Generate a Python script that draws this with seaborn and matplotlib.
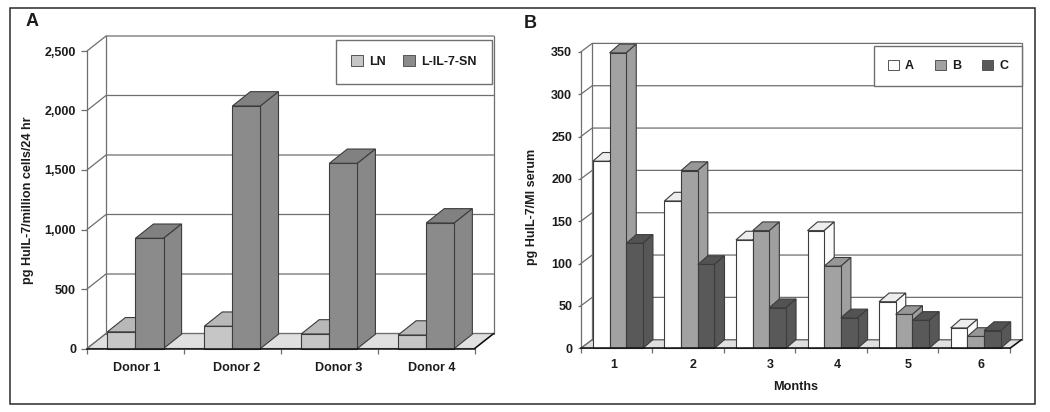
"""
Two pseudo-3D bar charts of HuIL-7 levels (panels A and B).
Bars come from seaborn; the depth faces are derived from the bar patches.
"""

import matplotlib.pyplot as plt
from matplotlib.colors import to_rgb
from matplotlib.patches import Polygon, Rectangle
from matplotlib.ticker import FixedLocator, StrMethodFormatter
import pandas as pd
import seaborn as sns


WIDTH, HEIGHT = 1050, 412

DONORS = ["Donor 1", "Donor 2", "Donor 3", "Donor 4"]
LN = [140, 187, 122, 113]
L_IL_7_SN = [926, 2038, 1556, 1055]

MONTHS = ["1", "2", "3", "4", "5", "6"]
GROUP_A = [221, 174, 128, 139, 55, 24]
GROUP_B = [349, 210, 139, 97, 40, 14]
GROUP_C = [124, 99, 48, 36, 33, 21]

TICKS_A = [0, 500, 1000, 1500, 2000, 2500]
TICKS_B = [0, 50, 100, 150, 200, 250, 300, 350]

GREY_A = {"LN": "#c6c6c6", "L-IL-7-SN": "#8b8b8b"}
GREY_B = {"A": "#ffffff", "B": "#a2a2a2", "C": "#595959"}
EDGE = "#3c3c3c"
WALL = "#6e6e6e"
FLOOR = "#e0e0e0"
TEXT = "#1c1c1c"

# the category labels in the original are not quite centred under their bars
LABEL_SHIFT_A = [0.01, 0.04, 0.10, 0.06]
LABEL_SHIFT_B = [-0.065, 0.046, 0.126, 0.07, 0.052, 0.08]


def make_axes(fig, left, right, top, bottom):
    return fig.add_axes([left / WIDTH, 1 - bottom / HEIGHT,
                         (right - left) / WIDTH, (bottom - top) / HEIGHT])


def shade(color, factor):
    r, g, b = to_rgb(color)
    return (r * factor, g * factor, b * factor)


def draw_wall(ax, yticks, wall_dx, wall_dy):
    x0, x1 = ax.get_xlim()
    y1 = ax.get_ylim()[1]

    # floor
    floor = Polygon([(x0, 0), (x1, 0), (x1 + wall_dx, wall_dy), (x0 + wall_dx, wall_dy)],
                    closed=True, fc=FLOOR, ec=WALL, lw=0.8, clip_on=False, zorder=0.3)
    ax.add_patch(floor)

    # grid lines run along the left side wall, then over the back wall
    for y in yticks:
        ax.plot([x0, x0 + wall_dx, x1 + wall_dx], [y, y + wall_dy, y + wall_dy],
                color=WALL, lw=0.9, clip_on=False, zorder=0.5)
    ax.plot([x0 + wall_dx, x0 + wall_dx], [wall_dy, y1 + wall_dy],
            color=WALL, lw=0.9, clip_on=False, zorder=0.5)
    ax.plot([x1 + wall_dx, x1 + wall_dx], [wall_dy, y1 + wall_dy],
            color=WALL, lw=0.9, clip_on=False, zorder=0.5)
    ax.plot([x1, x1 + wall_dx], [0, wall_dy], color="#111111", lw=1.1, clip_on=False, zorder=0.6)


def add_depth(ax, bar_dx, bar_dy):
    # seaborn also leaves empty legend rectangles in ax.patches, skip those
    bars = [b for b in ax.patches if isinstance(b, Rectangle) and b.get_width() > 0]
    bars = sorted(bars, key=lambda b: b.get_x())
    for i, bar in enumerate(bars):
        x = bar.get_x()
        w = bar.get_width()
        h = bar.get_height()
        color = bar.get_facecolor()
        base = 2 + i
        top = Polygon([(x, h), (x + w, h), (x + w + bar_dx, h + bar_dy), (x + bar_dx, h + bar_dy)],
                      closed=True, fc=shade(color, 0.93), ec=EDGE, lw=0.8,
                      clip_on=False, zorder=base)
        side = Polygon([(x + w, 0), (x + w + bar_dx, bar_dy), (x + w + bar_dx, h + bar_dy), (x + w, h)],
                       closed=True, fc=shade(color, 0.98), ec=EDGE, lw=0.8,
                       clip_on=False, zorder=base)
        ax.add_patch(top)
        ax.add_patch(side)
        bar.set_zorder(base + 0.5)
        bar.set_clip_on(False)


def style_axes(ax, labels, shifts, yticks, xlim, ymax, tick_len, label_pad):
    ax.set_xlim(*xlim)
    ax.set_ylim(0, ymax)
    ax.set_xticks([i + s for i, s in enumerate(shifts)], labels)
    ax.set_yticks(yticks)
    ax.patch.set_visible(False)
    sns.despine(ax=ax)
    ax.spines["left"].set_color(WALL)
    ax.spines["left"].set_linewidth(0.9)
    ax.spines["bottom"].set_color("#111111")
    ax.spines["bottom"].set_linewidth(1.1)
    ax.spines["bottom"].set_zorder(60)
    ax.tick_params(axis="x", which="major", length=0, pad=label_pad, labelsize=9, labelcolor=TEXT)
    # the white style switches ticks off, the boundary ticks need them back
    ax.tick_params(axis="x", which="minor", bottom=True, length=3.6, width=0.9, color=WALL)
    ax.tick_params(axis="y", left=True, length=tick_len, width=0.9, color=WALL, pad=3.6,
                   labelsize=9, labelcolor=TEXT)
    n = int(round(xlim[1] - xlim[0]))
    ax.xaxis.set_minor_locator(FixedLocator([xlim[0] + i for i in range(n + 1)]))


def finish_legend(ax, box, ncols, columnspacing, borderpad):
    left, right, top, bottom = box
    sns.move_legend(ax, "upper left", ncols=ncols, title=None,
                    bbox_to_anchor=(left / WIDTH, 1 - bottom / HEIGHT,
                                    (right - left) / WIDTH, (bottom - top) / HEIGHT),
                    bbox_transform=ax.figure.transFigure, mode="expand",
                    frameon=True, fancybox=False, framealpha=1, edgecolor="#707070",
                    borderaxespad=0, borderpad=borderpad, handlelength=0.9, handleheight=0.9,
                    handletextpad=0.5, columnspacing=columnspacing, fontsize=9)
    legend = ax.get_legend()
    legend.set_zorder(100)
    legend.get_frame().set_linewidth(1.0)
    for handle in legend.get_patches():
        handle.set_edgecolor("#555555")
        handle.set_linewidth(0.7)
    for text in legend.get_texts():
        text.set_color(TEXT)


sns.set_style("white")
plt.rcParams["font.family"] = ["Liberation Sans", "DejaVu Sans"]
plt.rcParams["font.weight"] = "bold"
plt.rcParams["axes.labelweight"] = "bold"

fig = plt.figure(figsize=(WIDTH / 100, HEIGHT / 100), dpi=100, facecolor="white")

# --- Panel A ---
ax_a = make_axes(fig, 87, 474.7, 51, 348.5)
df_a = pd.DataFrame({"donor": DONORS * 2,
                     "group": ["LN"] * 4 + ["L-IL-7-SN"] * 4,
                     "value": LN + L_IL_7_SN})
sns.barplot(data=df_a, x="donor", y="value", hue="group", palette=GREY_A, ax=ax_a,
            width=0.58, saturation=1, edgecolor=EDGE, linewidth=0.8, errorbar=None)
style_axes(ax_a, DONORS, LABEL_SHIFT_A, TICKS_A, (-0.5, 3.5), 2500, 4.3, 9.5)
ax_a.yaxis.set_major_formatter(StrMethodFormatter("{x:,.0f}"))
ax_a.set_xlabel("")
ax_a.set_ylabel("pg HuIL-7/million cells/24 hr", fontsize=9.1, color=TEXT)
ax_a.yaxis.set_label_coords((34 - 87) / 387.7, (348.5 - 200) / 297.5)
draw_wall(ax_a, TICKS_A, 19 / 96.9, 15 / 297.5 * 2500)
add_depth(ax_a, 18 / 96.9, 14.3 / 297.5 * 2500)
finish_legend(ax_a, (335.7, 492, 39.7, 83.7), 2, 2.2, 1.26)

# --- Panel B ---
ax_b = make_axes(fig, 580.7, 1010, 52, 348.3)
df_b = pd.DataFrame({"month": MONTHS * 3,
                     "group": ["A"] * 6 + ["B"] * 6 + ["C"] * 6,
                     "value": GROUP_A + GROUP_B + GROUP_C})
sns.barplot(data=df_b, x="month", y="value", hue="group", palette=GREY_B, ax=ax_b,
            width=0.7, saturation=1, edgecolor=EDGE, linewidth=0.8, errorbar=None)
style_axes(ax_b, MONTHS, LABEL_SHIFT_B, TICKS_B, (-0.52, 5.48), 350, 2.5, 8)
ax_b.set_xlabel("Months", fontsize=9.1, color=TEXT, labelpad=6.8)
ax_b.set_ylabel("pg HuIL-7/Ml serum", fontsize=9, color=TEXT)
ax_b.yaxis.set_label_coords((537.5 - 580.7) / 429.3, (348.3 - 207) / 296.3)
draw_wall(ax_b, TICKS_B, 11.5 / 71.55, 8.6 / 296.3 * 350)
add_depth(ax_b, 10 / 71.55, 8.7 / 296.3 * 350)
finish_legend(ax_b, (874, 1021.7, 46, 85.7), 3, 2.6, 1.09)

# --- Frame and panel letters ---
fig.add_artist(Rectangle((9.5 / WIDTH, 1 - 404 / HEIGHT), 1025 / WIDTH, 396 / HEIGHT,
                         transform=fig.transFigure, fill=False, ec="#2a2a2a", lw=1.1))
fig.text(32 / WIDTH, 1 - 22 / HEIGHT, "A", fontsize=13, ha="center", va="center", color=TEXT)
fig.text(530.7 / WIDTH, 1 - 24 / HEIGHT, "B", fontsize=13, ha="center", va="center", color=TEXT)

plt.savefig("out.png", dpi=100)
plt.close()
